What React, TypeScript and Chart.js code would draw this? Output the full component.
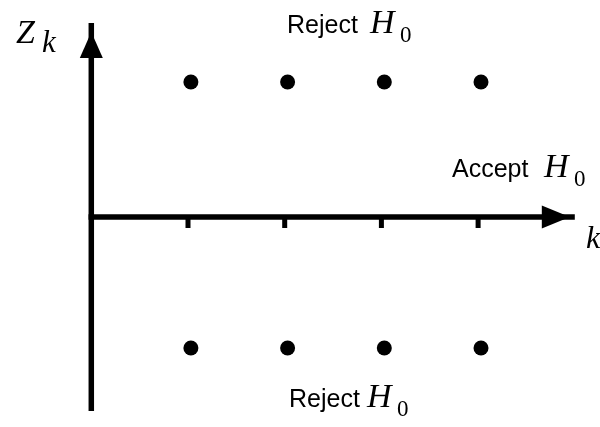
import { useEffect, useRef } from "react";
import { Chart, registerables } from "chart.js";

Chart.register(...registerables);

// Stage numbers k at which the statistic Z_k is checked
const stageX = [1.03, 2.03, 3.03, 4.03];
// Upper and lower rejection boundaries at each stage
const upperBoundary = [1.35, 1.35, 1.35, 1.35];
const lowerBoundary = [-1.31, -1.31, -1.31, -1.31];
// Tick marks along the k axis
const tickPositions = [1, 2, 3, 4];
// Extent of the drawn axes (data units)
const xAxisExtent = [0, 5];
const yAxisExtent = [-1.94, 1.94];

const INK = "#000000";
const SANS = '"Liberation Sans", Arial, sans-serif';
const SERIF = '"Liberation Serif", serif';

const diagramPlugin = {
  id: "diagram",
  beforeDatasetsDraw(chart: any) {
    const { ctx, scales } = chart;
    const xs = scales.x;
    const ys = scales.y;
    const x0 = xs.getPixelForValue(0);
    const y0 = ys.getPixelForValue(0);
    const yTop = ys.getPixelForValue(yAxisExtent[1]);
    const yBot = ys.getPixelForValue(yAxisExtent[0]);
    const xEnd = xs.getPixelForValue(xAxisExtent[1]);
    const lw = 5.5;

    ctx.save();
    ctx.fillStyle = INK;
    ctx.strokeStyle = INK;
    ctx.lineWidth = lw;
    ctx.lineCap = "butt";

    // vertical Z_k axis
    ctx.beginPath();
    ctx.moveTo(x0, yTop);
    ctx.lineTo(x0, yBot);
    ctx.stroke();
    // arrow head on Z_k axis
    ctx.beginPath();
    ctx.moveTo(x0, yTop + 9);
    ctx.lineTo(x0 - 11.5, yTop + 35);
    ctx.lineTo(x0 + 11.5, yTop + 35);
    ctx.closePath();
    ctx.fill();

    // horizontal k axis
    ctx.beginPath();
    ctx.moveTo(x0 - lw / 2, y0);
    ctx.lineTo(xEnd, y0);
    ctx.stroke();
    // arrow head on k axis
    ctx.beginPath();
    ctx.moveTo(xEnd - 5, y0);
    ctx.lineTo(xEnd - 33, y0 - 11.5);
    ctx.lineTo(xEnd - 33, y0 + 11.5);
    ctx.closePath();
    ctx.fill();

    // stage ticks below the k axis
    tickPositions.forEach((t) => {
      const px = xs.getPixelForValue(t);
      ctx.fillRect(px - 2.5, y0, 5, 11);
    });
    ctx.restore();
  },
  afterDraw(chart: any) {
    const { ctx } = chart;
    ctx.save();
    ctx.fillStyle = INK;
    ctx.textBaseline = "alphabetic";
    ctx.textAlign = "left";

    const word = (t: string, x: number, y: number) => {
      ctx.font = `25px ${SANS}`;
      ctx.fillText(t, x, y);
    };
    const mathH0 = (x: number, y: number) => {
      ctx.font = `italic 34px ${SERIF}`;
      ctx.fillText("H", x, y);
      ctx.font = `23px ${SERIF}`;
      ctx.fillText("0", x + 30, y + 8.5);
    };

    // region labels
    word("Reject", 287, 33);
    mathH0(370, 33);
    word("Accept", 452, 177);
    mathH0(544, 177);
    word("Reject", 289, 407);
    mathH0(367, 407);

    // axis names
    ctx.font = `italic 34px ${SERIF}`;
    ctx.fillText("Z", 16, 43);
    ctx.font = `italic 31px ${SERIF}`;
    ctx.fillText("k", 42, 52);
    ctx.font = `italic 32px ${SERIF}`;
    ctx.fillText("k", 586, 248);
    ctx.restore();
  },
};

export default function App() {
  const canvasRef = useRef<HTMLCanvasElement | null>(null);

  useEffect(() => {
    if (!canvasRef.current) return;
    const upper = stageX.map((x, i) => ({ x, y: upperBoundary[i] }));
    const lower = stageX.map((x, i) => ({ x, y: lowerBoundary[i] }));
    const chart = new Chart(canvasRef.current, {
      type: "scatter",
      data: {
        datasets: [
          {
            label: "upper",
            data: upper,
            pointRadius: 7.5,
            pointBackgroundColor: INK,
            pointBorderWidth: 0,
            showLine: false,
          },
          {
            label: "lower",
            data: lower,
            pointRadius: 7.5,
            pointBackgroundColor: INK,
            pointBorderWidth: 0,
            showLine: false,
          },
        ],
      },
      options: {
        animation: false,
        responsive: true,
        maintainAspectRatio: false,
        events: [],
        layout: { padding: { left: 91.3, right: 25.2, top: 17, bottom: 10 } },
        plugins: {
          legend: { display: false },
          tooltip: { enabled: false },
        },
        scales: {
          x: { type: "linear", min: 0, max: 5, display: false },
          y: { type: "linear", min: -2, max: 2, display: false },
        },
      },
      plugins: [diagramPlugin],
    });
    return () => chart.destroy();
  }, []);

  return (
    <div
      style={{
        position: "absolute",
        left: 0,
        top: 0,
        width: "600px",
        height: "427px",
        background: "#ffffff",
      }}
    >
      <canvas ref={canvasRef} />
    </div>
  );
}
